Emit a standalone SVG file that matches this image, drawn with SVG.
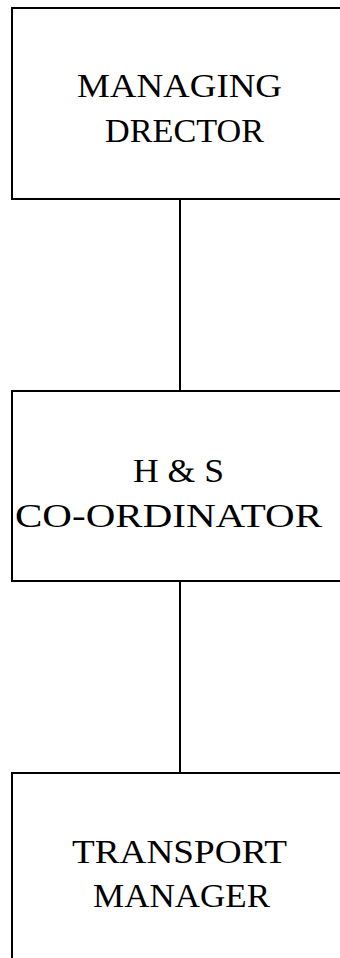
<svg xmlns="http://www.w3.org/2000/svg" width="340" height="958" viewBox="0 0 340 958">
<style>
.box{fill:#fff;stroke:#000;stroke-width:2}
.conn{stroke:#000;stroke-width:2;fill:none}
.t{font-family:"Liberation Serif","Times New Roman",serif;font-size:34px;fill:#000}
</style>
<rect width="340" height="958" fill="#fff"/>
<g id="connectors">
<line class="conn" x1="180" y1="199" x2="180" y2="391"/>
<line class="conn" x1="180" y1="581" x2="180" y2="773"/>
</g>
<g id="managing-director">
<rect class="box" x="12" y="8" width="338" height="191"/>
<text class="t" x="77" y="97" textLength="205" lengthAdjust="spacingAndGlyphs">MANAGING</text>
<text class="t" x="105" y="142" textLength="159" lengthAdjust="spacingAndGlyphs">DRECTOR</text>
</g>
<g id="hs-coordinator">
<rect class="box" x="12" y="391" width="338" height="190"/>
<text class="t" x="133" y="482" textLength="91" lengthAdjust="spacingAndGlyphs">H &amp; S</text>
<text class="t" x="15" y="527" textLength="307" lengthAdjust="spacingAndGlyphs">CO-ORDINATOR</text>
</g>
<g id="transport-manager">
<rect class="box" x="12" y="773" width="338" height="200"/>
<text class="t" x="72" y="863" textLength="215" lengthAdjust="spacingAndGlyphs">TRANSPORT</text>
<text class="t" x="93" y="907" textLength="177" lengthAdjust="spacingAndGlyphs">MANAGER</text>
</g>
</svg>
